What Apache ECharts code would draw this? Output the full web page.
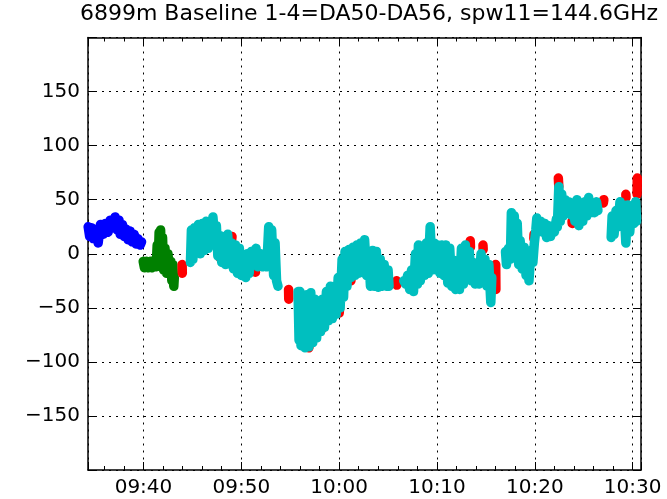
<!DOCTYPE html>
<html><head><meta charset="utf-8">
<script src="https://cdn.jsdelivr.net/npm/echarts@6/dist/echarts.min.js"></script>
<style>html,body{margin:0;padding:0;background:#fff}#c{width:667px;height:499px}</style>
</head><body><div id="c"></div>
<script>
const chartTitle = '6899m Baseline 1-4=DA50-DA56, spw11=144.6GHz';
// time in minutes after 09:00 ; values in the plotted quantity
const xMinMinutes = 34.33, xMaxMinutes = 90.85;
const yTicks = [-150, -100, -50, 0, 50, 100, 150];

const blueT = [34.35,34.5,34.7,34.86,35.1,35.37,35.6,35.88,36.1,36.39,36.6,36.9,37.1,37.31,37.5,37.62,37.85,38.03,38.2,38.43,38.65,38.84,39.05,39.25,39.45,39.66,39.8];
const blueV = [25,16,24,14,22,10,27,18,28,20,31,25,34,22,31,18,27,16,23,13,21,11,18,9,14,8,11];

const greenT = [39.97,40.1,40.3,40.5,40.7,40.9,41.1,41.3,41.4,41.5,41.6,41.68,41.75,41.85,41.95,42.05,42.2,42.35,42.5,42.65,42.8,42.9,43.0,43.1,43.15];
const greenV = [-7,-13,-7,-13,-7,-13,-6,-12,8,-11,20,-6,22,-8,15,-15,5,-18,0,-15,-7,-25,-10,-30,-22];

const redT = [43.95,43.97,44.5, 47.8,47.85,47.9, 49.0,49.05,49.2, 51.4,51.45,51.6, 54.83,54.85,55.3, 56.9,56.95,57.0, 58.3,58.35,58.4, 60.0,60.05,60.1, 61.2,61.25,61.3, 65.87,65.9,66.2, 73.4,73.42,73.5, 74.7,74.72,74.8, 76.0,76.02,76.5, 79.9,79.92,80.0, 82.4,82.45,82.6, 83.8,83.82,83.9, 87.0,87.05,87.3, 89.3,89.32,89.4, 90.45,90.47];
const redV = [-10,-18,null, -2,-4,null, 12,16,null, -15,-17,null, -33,-42,null, -87,-84,null, -69,-66,null, -55,-50,null, -25,-20,null, -25,-29,null, 12,6,null, 8,4,null, -10,-33,null, 14,18,null, 70,62,null, 30,28,null, 47,50,null, 55,52,null, 55,70];

const cyanT = [
 44.8,44.9,45.05,45.2,45.4,45.6,45.8,46.0,46.2,46.4,46.6,46.8,47.0,47.1,47.3,47.45,47.6,47.8,48.0,48.2,48.4,48.6,48.8,49.0,49.2,49.4,49.6,49.8,50.0,50.2,50.45,50.6,50.8,51.0,51.2,51.5,51.7,51.95,52.2,52.4,52.6,52.8,52.95,53.1,53.3,53.45,53.6,53.75, 54.5,
 55.8,55.9,56.0,56.1,56.3,56.5,56.7,56.9,57.1,57.3,57.5,57.7,57.9,58.1,58.3,58.5,58.7,58.9,59.1,59.3,59.5,59.7,59.9,60.1,60.3,60.45,60.6,60.8,61.0,61.2,61.4,61.6,61.8,62.0,62.2,62.4,62.6,62.8,63.0,63.2,63.4,63.6,63.8,64.0,64.2,64.4,64.6,64.8,65.0,65.1, 65.8,
 66.6,66.8,67.0,67.2,67.4,67.6,67.8,68.0,68.1,68.3,68.5,68.7,68.9,69.1,69.3,69.5,69.7,69.9,70.1,70.3,70.5,70.7,70.9,71.1,71.3,71.5,71.7,71.9,72.1,72.3,72.5,72.7,72.9,73.1,73.3,73.5,73.7,73.9,74.1,74.3,74.5,74.7,74.9,75.1,75.3,75.5,75.6, 76.3,
 77.0,77.1,77.3,77.5,77.6,77.75,77.9,78.05,78.2,78.35,78.5,78.7,78.9,79.1,79.3,79.4,79.6,79.8,79.95,80.1,80.2,80.4,80.6,80.8,81.0,81.2,81.4,81.6,81.8,82.0,82.2,82.3,82.45,82.6,82.75,82.9,83.1,83.3,83.5,83.7,83.9,84.1,84.3,84.5,84.7,84.9,85.1,85.3,85.5,85.7,85.9,86.1,86.3,86.45, 87.2,
 87.8,87.9,88.1,88.3,88.5,88.7,88.9,89.1,89.3,89.5,89.7,89.9,90.1,90.3,90.4];
const cyanV = [
 -8,22,-5,24,2,27,0,28,3,30,5,30,8,34,10,26,-2,17,-8,15,-10,18,-5,10,-14,8,-18,5,-20,-4,-22,0,-18,2,-10,5,-12,0,-12,-2,-12,25,-5,22,-20,10,-25,-30, null,
 -35,-80,-35,-85,-40,-87,-38,-86,-36,-82,-42,-78,-45,-72,-42,-68,-35,-62,-30,-60,-35,-56,-22,-50,-5,-40,2,-30,4,-22,6,-20,8,-18,10,-14,13,-20,0,-30,3,-30,2,-31,-5,-30,-10,-30,-15,-30, null,
 -25,-28,-20,-33,-15,-35,0,-28,8,-25,0,-20,10,-18,25,-15,10,-15,8,-18,8,-20,8,-27,5,-30,-6,-33,-8,-33,5,-28,8,-22,2,-25,-8,-28,-10,-28,0,-25,-5,-30,-10,-45,-22, null,
 2,-10,5,-5,38,0,35,-2,28,-10,12,-14,6,-20,-3,-25,3,-8,10,22,33,25,30,20,28,15,26,16,25,20,32,25,62,30,55,35,50,38,48,36,45,30,50,26,45,30,48,35,52,38,46,38,48,40, null,
 15,35,18,40,25,48,28,45,10,45,20,42,28,48,30];

function pairs(T, V) { return T.map((t, i) => [t, V[i] === null ? '-' : V[i]]); }
function hhmm(m) { const h = 9 + Math.floor(m / 60), mm = Math.round(m % 60); return String(h).padStart(2,'0') + ':' + String(mm).padStart(2,'0'); }

const FONT = 'DejaVu Sans';
const lineW = 9.5;
function mkSeries(name, T, V, color) {
  return { name, type: 'line', data: pairs(T, V), showSymbol: false, symbol: 'none', connectNulls: false,
    lineStyle: { color, width: lineW, cap: 'round', join: 'round' }, itemStyle: { color }, animation: false, clip: true, z: 2 };
}
const axisLine = { show: true, onZero: false, lineStyle: { color: '#000', width: 1.5 } };
const grid = { left: 88, right: 26, top: 37.5, bottom: 29 };
const xCommon = { type: 'value', min: xMinMinutes, max: xMaxMinutes, minInterval: 10, maxInterval: 10, splitNumber: 5 };
const yCommon = { type: 'value', min: -200, max: 200, interval: 50 };

const chart = echarts.init(document.getElementById('c'), null, { renderer: 'canvas' });
chart.setOption({
  animation: false,
  backgroundColor: '#fff',
  title: { text: chartTitle, left: 364, textAlign: 'center', top: -2,
    textStyle: { fontFamily: FONT, fontSize: 22, fontWeight: 'normal', color: '#000' } },
  grid,
  xAxis: [
    Object.assign({}, xCommon, { position: 'bottom', axisLine,
      axisTick: { show: true, inside: true, length: 8, lineStyle: { color: '#000', width: 1 } },
      minorTick: { show: true, splitNumber: 5, length: 4, lineStyle: { color: '#000', width: 1 } },
      axisLabel: { show: true, margin: 8, showMinLabel: false, showMaxLabel: false, fontFamily: FONT, fontSize: 20, color: '#000', formatter: v => hhmm(v) },
      splitLine: { show: true, lineStyle: { color: '#000', width: 1, type: [2, 5] } } }),
    Object.assign({}, xCommon, { position: 'top', axisLine,
      axisTick: { show: true, inside: true, length: 8, lineStyle: { color: '#000', width: 1 } },
      minorTick: { show: true, splitNumber: 5, length: 4, lineStyle: { color: '#000', width: 1 } },
      axisLabel: { show: false }, splitLine: { show: false } })
  ],
  yAxis: [
    Object.assign({}, yCommon, { position: 'left', axisLine,
      axisTick: { show: true, inside: true, length: 8, lineStyle: { color: '#000', width: 1 } },
      axisLabel: { show: true, margin: 8, fontFamily: FONT, fontSize: 20, color: '#000',
        formatter: v => (yTicks.indexOf(v) < 0 ? '' : (v < 0 ? '\u2212' + Math.abs(v) : String(v))) },
      splitLine: { show: true, lineStyle: { color: '#000', width: 1, type: [2, 5] } } }),
    Object.assign({}, yCommon, { position: 'right', axisLine,
      axisTick: { show: true, inside: true, length: 8, lineStyle: { color: '#000', width: 1 } },
      axisLabel: { show: false }, splitLine: { show: false } })
  ],
  series: [
    mkSeries('blue', blueT, blueV, '#0000ff'),
    mkSeries('green', greenT, greenV, '#008000'),
    mkSeries('red', redT, redV, '#ff0000'),
    mkSeries('cyan', cyanT, cyanV, '#00bfbf')
  ]
});
</script></body></html>
